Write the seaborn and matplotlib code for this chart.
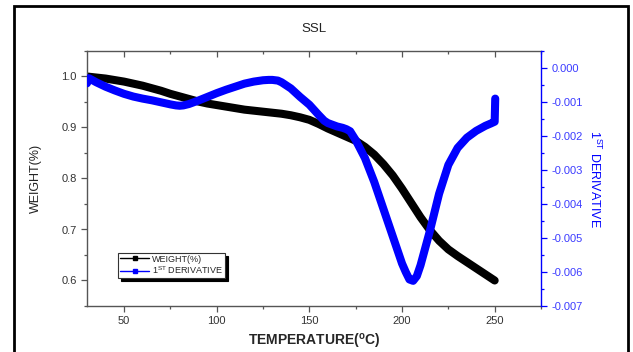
import numpy as np
import pandas as pd
import matplotlib
matplotlib.use("Agg")
import matplotlib.pyplot as plt
import seaborn as sns
from matplotlib.lines import Line2D
from matplotlib.patches import Rectangle
from matplotlib.ticker import MultipleLocator

sns.set_style("white")
plt.rcParams['font.family'] = ['Liberation Sans', 'DejaVu Sans']

# ---- data ----
weight_temp = [30, 35, 40, 45, 50, 55, 60, 65, 70, 75, 80, 85, 90, 95, 100, 105, 110,
               115, 120, 125, 130, 135, 140, 145, 150, 155, 160, 165, 170, 175, 180,
               185, 190, 195, 200, 205, 210, 215, 220, 225, 230, 235, 240, 245, 250]
weight_vals = [1.0, 0.998, 0.996, 0.993, 0.990, 0.986, 0.982, 0.977, 0.972, 0.966,
               0.961, 0.956, 0.951, 0.947, 0.944, 0.941, 0.938, 0.935, 0.933, 0.931,
               0.929, 0.927, 0.924, 0.920, 0.915, 0.907, 0.898, 0.890, 0.882, 0.874,
               0.862, 0.847, 0.828, 0.806, 0.780, 0.752, 0.724, 0.699, 0.678, 0.661,
               0.648, 0.636, 0.624, 0.612, 0.600]

deriv_temp = [30, 31, 33, 35, 40, 45, 50, 55, 60, 65, 70, 75, 78, 80, 82, 85, 90, 95,
              100, 105, 110, 115, 120, 125, 128, 130, 133, 135, 140, 145, 150, 155,
              158, 160, 163, 165, 168, 170, 172, 175, 180, 185, 190, 195, 200, 202,
              204, 206, 208, 210, 215, 220, 225, 230, 235, 240, 245, 248, 250, 250.3]
deriv_vals = [-0.00045, -0.0003, -0.00036, -0.00042, -0.00055, -0.00066, -0.00076,
              -0.00084, -0.00090, -0.00095, -0.00101, -0.00107, -0.00110, -0.00111,
              -0.00110, -0.00106, -0.00096, -0.00085, -0.00074, -0.00064, -0.00055,
              -0.00046, -0.00040, -0.00036, -0.00035, -0.00035, -0.00037, -0.00042,
              -0.00060, -0.00085, -0.00108, -0.00138, -0.00155, -0.00162, -0.00168,
              -0.00172, -0.00176, -0.00180, -0.00186, -0.00212, -0.00265, -0.00335,
              -0.00415, -0.00495, -0.00575, -0.0060, -0.00622, -0.00626, -0.00612,
              -0.00580, -0.00480, -0.00370, -0.00285, -0.00235, -0.00205, -0.00185,
              -0.00170, -0.00163, -0.00158, -0.00090]

x_ticks = [50, 100, 150, 200, 250]
left_ticks = [0.6, 0.7, 0.8, 0.9, 1.0]
right_ticks = [0.0, -0.001, -0.002, -0.003, -0.004, -0.005, -0.006, -0.007]

BLUE = '#0000ff'
TICKBLUE = '#3b3bff'

fig = plt.figure(figsize=(6.33, 3.52), dpi=100)
ax = fig.add_axes([87/633, 1-306/352, (541-87)/633, (306-51)/352])
ax2 = ax.twinx()

dfw = pd.DataFrame({'T': weight_temp, 'W': weight_vals})
dfd = pd.DataFrame({'T': deriv_temp, 'D': deriv_vals})

sns.lineplot(data=dfw, x='T', y='W', ax=ax, color='black', lw=5.8, sort=False,
             estimator=None, legend=False, solid_capstyle='round',
             solid_joinstyle='round', zorder=2)
sns.lineplot(data=dfd, x='T', y='D', ax=ax2, color=BLUE, lw=5.8, sort=False,
             estimator=None, legend=False, solid_capstyle='round',
             solid_joinstyle='round', zorder=3)

ax.set_xlim(30, 275)
ax.set_ylim(0.55, 1.05)
ax2.set_ylim(-0.007, 0.0005)

ax.set_xticks(x_ticks)
ax.set_yticks(left_ticks)
ax2.set_yticks(right_ticks)
ax.xaxis.set_minor_locator(MultipleLocator(25))
ax.yaxis.set_minor_locator(MultipleLocator(0.05))
ax2.yaxis.set_minor_locator(MultipleLocator(0.0005))
ax.set_xticklabels([str(v) for v in x_ticks])
ax.set_yticklabels([f"{v:.1f}" for v in left_ticks])
ax2.set_yticklabels([f"{v:.3f}" if v != 0 else "0.000" for v in right_ticks])

ax.tick_params(axis='x', which='both', direction='out', bottom=True, top=True,
               labelsize=8, labelcolor='#333333', color='#555555')
ax.tick_params(axis='x', which='major', length=4, width=0.9)
ax.tick_params(axis='x', which='minor', length=2.5, width=0.9)
ax.tick_params(axis='y', which='both', direction='out', left=True, right=False,
               labelsize=8, labelcolor='#333333', color='#555555')
ax.tick_params(axis='y', which='major', length=4, width=0.9)
ax.tick_params(axis='y', which='minor', length=2.5, width=0.9)
ax2.tick_params(axis='y', which='both', direction='out', right=True, left=False,
                labelsize=8, labelcolor=TICKBLUE, color=BLUE)
ax2.tick_params(axis='y', which='major', length=4, width=0.9)
ax2.tick_params(axis='y', which='minor', length=2.5, width=0.9)
ax2.tick_params(axis='x', which='both', top=False, bottom=False)

for t in ax.xaxis.get_major_ticks() + ax.xaxis.get_minor_ticks():
    t.tick2line.set_marker(3)
ax.tick_params(axis='x', which='both', labeltop=False)

for sp in ['left', 'bottom', 'top']:
    ax.spines[sp].set_color('#555555')
    ax.spines[sp].set_linewidth(1.0)
    ax2.spines[sp].set_visible(False)
ax.spines['right'].set_visible(False)
ax2.spines['right'].set_color(BLUE)
ax2.spines['right'].set_linewidth(1.0)

ax.set_xlabel('TEMPERATURE($\\mathregular{^{o}}$C)', fontsize=10, fontweight='bold',
              labelpad=4)
ax.set_ylabel('WEIGHT(%)', fontsize=9, labelpad=14, color='#222222')
ax2.set_ylabel('1$\\mathregular{^{ST}}$ DERIVATIVE', fontsize=9, color=BLUE,
               rotation=270, labelpad=14)
ax.set_title('SSL', fontsize=9.5, pad=14, color='#222222')

handles = [Line2D([], [], color='black', marker='s', markersize=3.5, lw=1.0),
           Line2D([], [], color=BLUE, marker='s', markersize=3.5, lw=1.0)]
leg = ax.legend(handles, ['WEIGHT(%)', '1$\\mathregular{^{ST}}$ DERIVATIVE'],
                loc='lower left', bbox_to_anchor=(0.068, 0.11), borderaxespad=0,
                fontsize=6.5, frameon=True, fancybox=False,
                shadow={'color': 'black', 'alpha': 1.0, 'ox': 2.5, 'oy': -2.5},
                edgecolor='#333333', handlelength=3.3, borderpad=0.2,
                labelspacing=0.1, handletextpad=0.3)
leg.get_frame().set_linewidth(0.8)
leg.set_zorder(10)

fig.patches.append(Rectangle((14/633, -0.02), (628-14)/633, 1-6/352+0.02,
                             transform=fig.transFigure, fill=False,
                             edgecolor='black', lw=2.0))

fig.savefig('out.png', dpi=100)
